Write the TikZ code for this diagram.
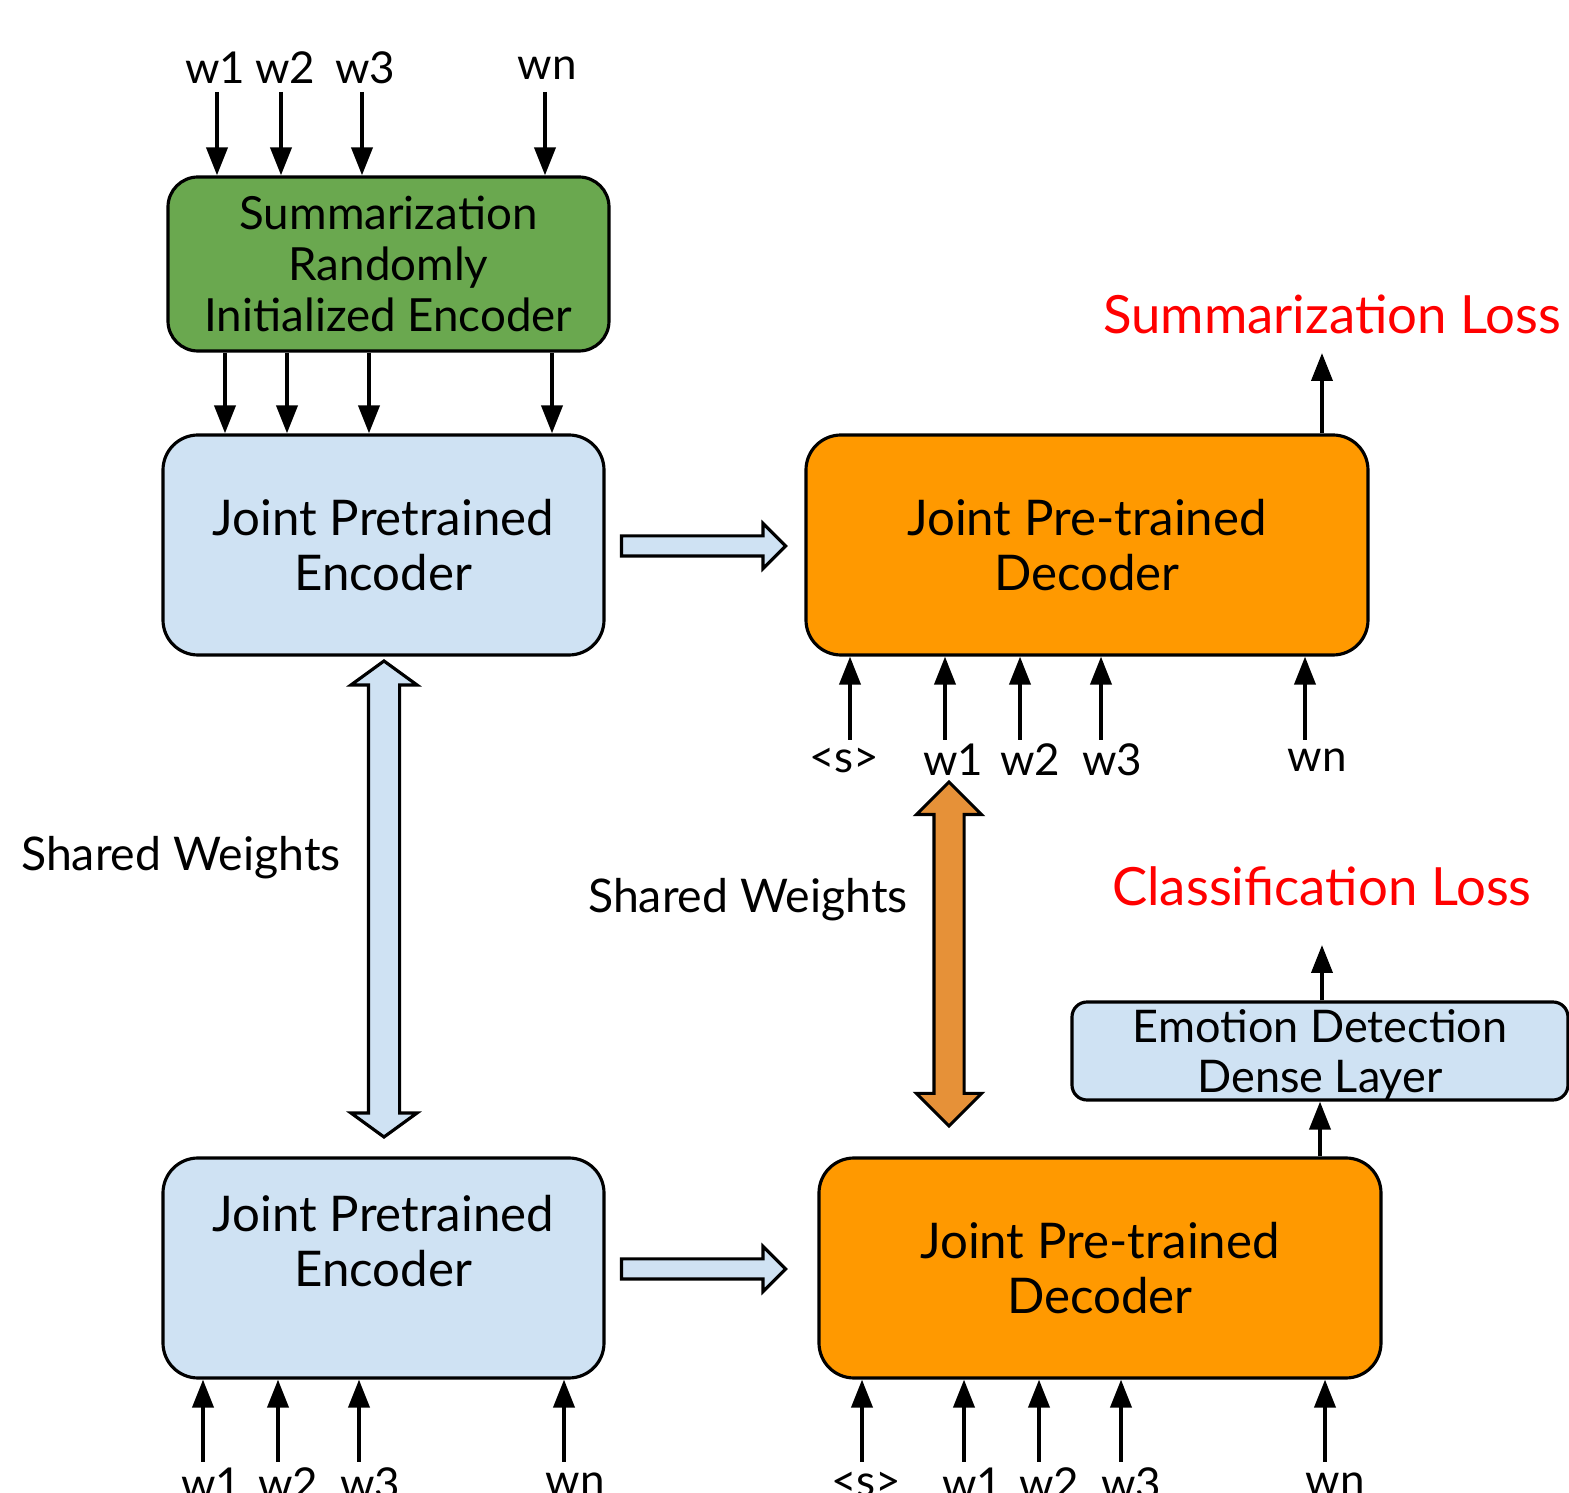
\documentclass[tikz,border=0pt]{standalone}
\usepackage{fontspec}
\setmainfont{Lato}
\usetikzlibrary{positioning,shapes.arrows,arrows.meta}

\definecolor{encblue}{HTML}{CFE2F3}
\definecolor{decorange}{HTML}{FF9900}
\definecolor{sumgreen}{HTML}{6AA84F}
\definecolor{shareorange}{HTML}{E69138}
\definecolor{lossred}{HTML}{FF0000}

\begin{document}
\begin{tikzpicture}[y=-1cm,
    box/.style={draw, line width=0.9pt, rounded corners=0.35cm, align=center,
        font=\fontsize{14}{15.6}\selectfont, minimum width=4.41cm, minimum height=2.2cm},
    encbox/.style={box, fill=encblue},
    decbox/.style={box, fill=decorange, minimum width=5.62cm},
    word/.style={font=\fontsize{12.5}{14}\selectfont, inner sep=0pt},
    loss/.style={font=\fontsize{15}{17}\selectfont, text=lossred, inner sep=0pt},
    feed/.style={-{Triangle[length=0.28cm,width=0.21cm]}, line width=1.1pt},
    pass/.style={single arrow, draw, line width=0.9pt, fill=encblue, inner xsep=0pt,
        inner ysep=0.085cm, single arrow head extend=0.125cm, minimum height=1.64cm},
    shared/.style={double arrow, draw, line width=0.9pt, rotate=90, inner xsep=0pt,
        inner ysep=0.14cm, double arrow head extend=0.175cm}
]
\useasboundingbox (0,0) rectangle (15.69,14.93);

% boxes
\node[box, fill=sumgreen, minimum height=1.74cm, rounded corners=0.3cm,
    font=\fontsize{13}{14.5}\selectfont] (sumenc) at (3.885,2.64)
    {Summarization\\Randomly\\Initialized Encoder};
\node[encbox] (enc1) at (3.835,5.45) {Joint Pretrained\\Encoder};
\node[decbox] (dec1) at (10.87,5.45) {Joint Pre-trained\\Decoder};
\node[encbox] (enc2) at (3.835,12.68) {Joint Pretrained\\Encoder\\\mbox{}};
\node[decbox] (dec2) at (11.00,12.68) {Joint Pre-trained\\Decoder};
\node[encbox, minimum width=4.96cm, minimum height=0.98cm, rounded corners=0.15cm,
    inner ysep=0.5pt, text depth=0pt, font=\fontsize{12.8}{14.2}\selectfont] (dense) at (13.20,10.51)
    {Emotion Detection\\Dense Layer};

% block arrows
\node[pass] (pass1) at (6.985,5.46) {};
\node[pass] (pass2) at (6.985,12.69) {};
\node[shared, fill=encblue, minimum height=4.76cm, double arrow tip angle=108] (share1) at (3.84,8.99) {};
\node[shared, fill=shareorange, minimum height=3.44cm, inner ysep=0.135cm] (share2) at (9.49,9.54) {};
\node[word, font=\fontsize{13.2}{15}\selectfont] (sharelbl1) at (1.81,8.58) {Shared Weights};
\node[word, font=\fontsize{13.2}{15}\selectfont] (sharelbl2) at (7.48,9.00) {Shared Weights};

% losses
\node[loss] (sumloss) at (13.32,3.14) {Summarization Loss};
\node[loss] (clsloss) at (13.22,8.86) {Classification Loss};
\coordinate (sumtip) at (13.22,3.53);
\coordinate (clstip) at (13.22,9.45);
\draw[feed] (sumtip |- dec1.north) -- (sumtip);
\draw[feed] (clstip |- dense.north) -- (clstip);
\draw[feed] (dense.south |- dec2.north) -- (dense.south);

% inputs of the summarization encoder
\foreach \x/\lx/\t [count=\i] in {2.17/2.15/w1, 2.81/2.85/w2, 3.62/3.65/w3, 5.45/5.47/wn} {
    \node[word] (top-\i) at (\lx,0.68) {\t};
    \coordinate (ta-\i) at (\x,0.92);
    \draw[feed] (ta-\i) -- (ta-\i |- sumenc.north);
}
\foreach \x [count=\i] in {2.25, 2.87, 3.69, 5.52} {
    \coordinate (mid-\i) at (\x,0);
    \draw[feed] (mid-\i |- sumenc.south) -- (mid-\i |- enc1.north);
}

% inputs of the decoders and the lower encoder
\foreach \x/\lx/\t [count=\i] in {8.50/8.44/{<s>}, 9.45/9.53/w1, 10.20/10.30/w2, 11.01/11.12/w3, 13.05/13.17/wn} {
    \node[word] (d1-\i) at (\lx,7.60) {\t};
    \coordinate (d1a-\i) at (\x,7.40);
    \draw[feed] (d1a-\i) -- (d1a-\i |- dec1.south);
}
\foreach \x/\lx/\t [count=\i] in {2.03/2.11/w1, 2.78/2.88/w2, 3.59/3.70/w3, 5.64/5.75/wn} {
    \node[word] (e2-\i) at (\lx,14.84) {\t};
    \coordinate (e2a-\i) at (\x,14.62);
    \draw[feed] (e2a-\i) -- (e2a-\i |- enc2.south);
}
\foreach \x/\lx/\t [count=\i] in {8.62/8.66/{<s>}, 9.64/9.72/w1, 10.39/10.49/w2, 11.21/11.31/w3, 13.25/13.35/wn} {
    \node[word] (d2-\i) at (\lx,14.84) {\t};
    \coordinate (d2a-\i) at (\x,14.62);
    \draw[feed] (d2a-\i) -- (d2a-\i |- dec2.south);
}
\end{tikzpicture}
\end{document}
